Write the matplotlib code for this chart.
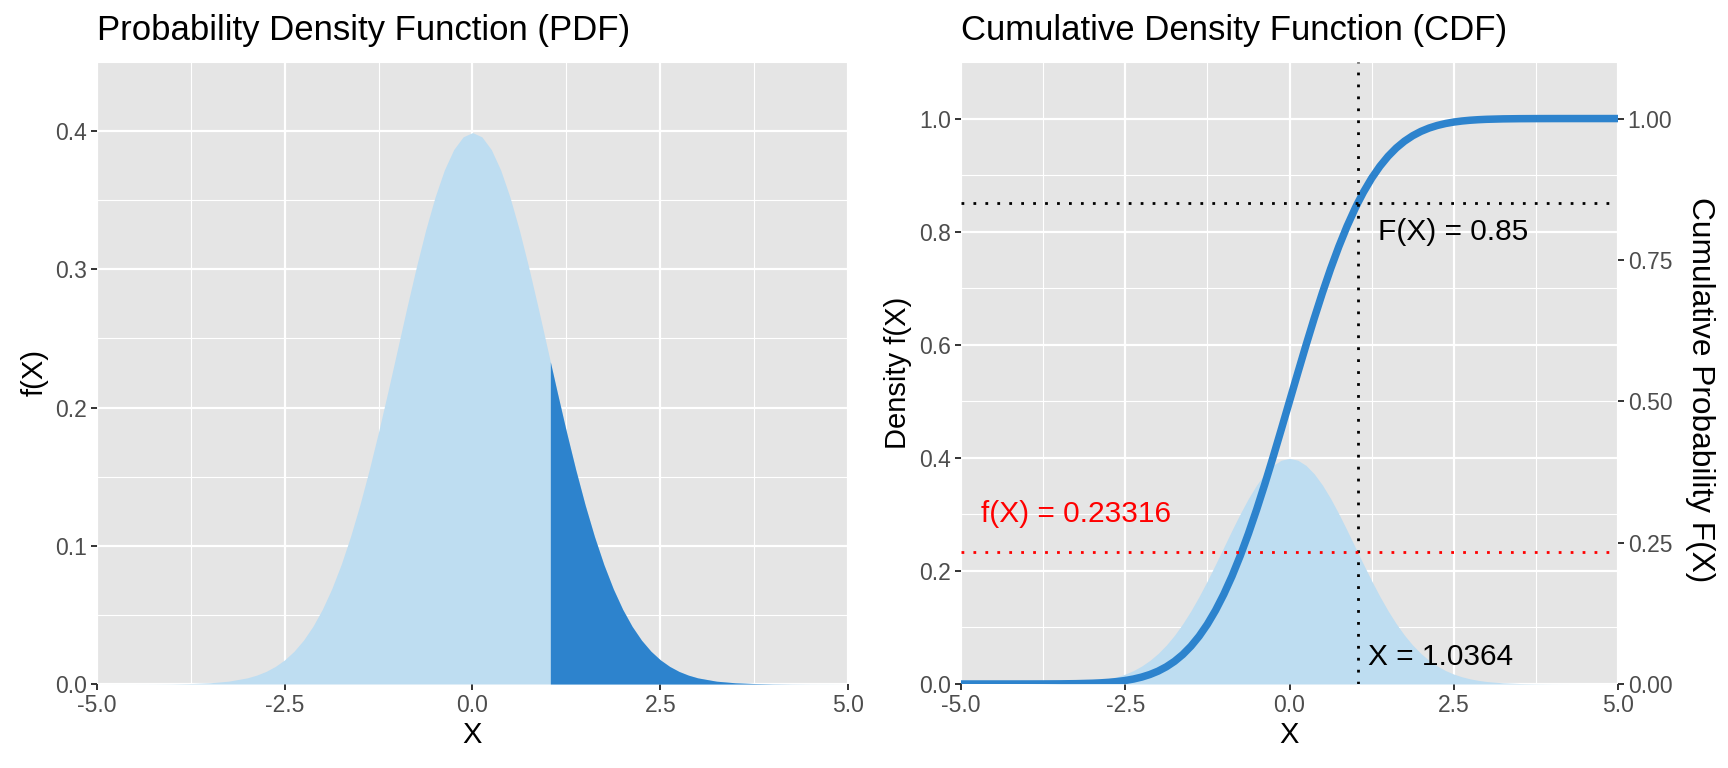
import numpy as np
import matplotlib.pyplot as plt
from matplotlib.ticker import MultipleLocator

plt.rcParams['font.family'] = ['Liberation Sans', 'DejaVu Sans']

# x positions (step 0.125 in the middle, 0.25 in the tails) and values
x_right = [0.0, 0.125, 0.25, 0.375, 0.5, 0.625, 0.75, 0.875, 1.0, 1.0364, 1.125, 1.25, 1.375,
           1.5, 1.625, 1.75, 1.875, 2.0, 2.125, 2.25, 2.375, 2.5, 2.625, 2.75, 2.875,
           3.0, 3.25, 3.5, 3.75, 4.0, 4.25, 4.5, 4.75, 5.0]
pdf_right = [0.39894, 0.39584, 0.38667, 0.37186, 0.35207, 0.32816, 0.30114, 0.27206, 0.24197,
             0.23316, 0.21188, 0.18265, 0.15502, 0.12952, 0.10654, 0.08628, 0.06879, 0.05399,
             0.04173, 0.03174, 0.02377, 0.01753, 0.01273, 0.00909, 0.00640, 0.00443, 0.00203,
             0.00087, 0.00035, 0.00013, 0.00005, 0.00002, 0.00001, 0.0]
cdf_right = [0.5, 0.54974, 0.59871, 0.64617, 0.69146, 0.73401, 0.77337, 0.80927, 0.84134,
             0.85, 0.86970, 0.89435, 0.91543, 0.93319, 0.94792, 0.95994, 0.96960, 0.97725,
             0.98321, 0.98778, 0.99123, 0.99379, 0.99567, 0.99702, 0.99798, 0.99865, 0.99942,
             0.99977, 0.99991, 0.99997, 0.99999, 1.0, 1.0, 1.0]

# mirror to the left half (1.0364 is only the cut point on the right)
left_idx = [i for i in range(len(x_right)) if x_right[i] not in (0.0, 1.0364)][::-1]
x = np.array([-x_right[i] for i in left_idx] + x_right)
pdf = np.array([pdf_right[i] for i in left_idx] + pdf_right)
cdf = np.array([1 - cdf_right[i] for i in left_idx] + cdf_right)

x_cut = 1.0364
f_cut = 0.23316
F_cut = 0.85

light = '#BEDDF1'
dark = '#2D83CD'
panel_bg = '#E5E5E5'
txt_grey = '#4D4D4D'

W, H = 1728, 768
fig = plt.figure(figsize=(W / 100, H / 100), dpi=100)
ax1 = fig.add_axes([97 / W, (H - 684) / H, (848 - 97) / W, (684 - 62) / H])
ax2 = fig.add_axes([961 / W, (H - 684) / H, (1618 - 961) / W, (684 - 62) / H])


def style(ax, ymax, ymaj, ymin):
    ax.set_facecolor(panel_bg)
    ax.set_xlim(-5, 5)
    ax.set_ylim(0, ymax)
    ax.xaxis.set_major_locator(MultipleLocator(2.5))
    ax.xaxis.set_minor_locator(MultipleLocator(1.25))
    ax.yaxis.set_major_locator(MultipleLocator(ymaj))
    ax.yaxis.set_minor_locator(MultipleLocator(ymin))
    ax.grid(which='major', color='white', lw=1.6)
    ax.grid(which='minor', color='white', lw=0.8)
    ax.set_axisbelow(True)
    for s in ax.spines.values():
        s.set_visible(False)
    ax.tick_params(which='major', length=4, width=1.4, color='#333333',
                   labelsize=16.5, labelcolor=txt_grey, pad=3)
    ax.tick_params(which='minor', length=0)
    ax.xaxis.set_major_formatter(lambda v, p: f'{v:.1f}')
    ax.yaxis.set_major_formatter(lambda v, p: f'{v:.1f}')


# left panel: PDF with shaded upper tail
style(ax1, 0.45, 0.1, 0.05)
ax1.fill_between(x, 0, pdf, color=light, lw=0)
tail = x >= x_cut
ax1.fill_between(x[tail], 0, pdf[tail], color=dark, lw=0)
ax1.set_title('Probability Density Function (PDF)', loc='left', fontsize=25, pad=16)
ax1.set_xlabel('X', fontsize=21, labelpad=3)
ax1.set_ylabel('f(X)', fontsize=21, labelpad=5)

# right panel: PDF fill + CDF line with reference lines
style(ax2, 1.1, 0.2, 0.1)
ax2.fill_between(x, 0, pdf, color=light, lw=0)
ax2.plot(x, cdf, color=dark, lw=5.4, solid_capstyle='butt')
dots = (0, (1, 3.3))
ax2.axhline(F_cut, color='black', lw=2.0, linestyle=dots)
ax2.axvline(x_cut, color='black', lw=2.0, linestyle=dots)
ax2.axhline(f_cut, color='red', lw=2.0, linestyle=dots)
ax2.text(1.34, 0.80, f'F(X) = {F_cut}', fontsize=21.5, va='center', ha='left')
ax2.text(1.19, 0.048, f'X = {x_cut}', fontsize=21.5, va='center', ha='left')
ax2.text(-4.70, 0.30, f'f(X) = {f_cut}', fontsize=21.5, va='center', ha='left', color='red')
ax2.set_title('Cumulative Density Function (CDF)', loc='left', fontsize=25, pad=16)
ax2.set_xlabel('X', fontsize=21, labelpad=3)
ax2.set_ylabel('Density f(X)', fontsize=21, labelpad=5)

sec = ax2.secondary_yaxis('right')
sec.set_yticks([0, 0.25, 0.5, 0.75, 1.0])
sec.yaxis.set_major_formatter(lambda v, p: f'{v:.2f}')
sec.spines['right'].set_visible(False)
sec.tick_params(length=4, width=1.4, color='#333333', labelsize=16.5, labelcolor=txt_grey, pad=3)
sec.set_ylabel('Cumulative Probability F(X)', fontsize=22.8, rotation=-90, va='bottom', labelpad=9)
sec.yaxis.label.set_y(0.473)

fig.savefig('out.png', dpi=100, facecolor='white')
